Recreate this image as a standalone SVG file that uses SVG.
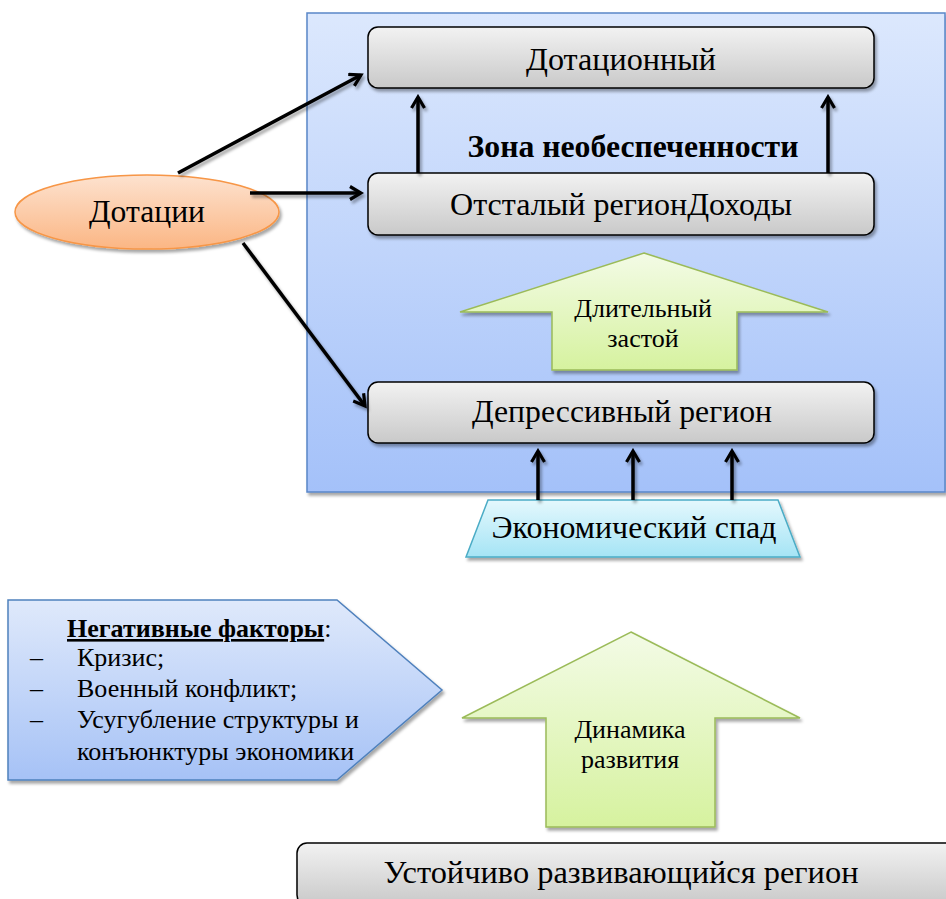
<svg xmlns="http://www.w3.org/2000/svg" width="946" height="899" viewBox="0 0 946 899">
<defs>
<linearGradient id="gBlue" x1="0" y1="0" x2="0" y2="1"><stop offset="0" stop-color="#dce8fd"/><stop offset="1" stop-color="#a4c1f9"/></linearGradient>
<linearGradient id="gBlue2" x1="0" y1="0" x2="0" y2="1"><stop offset="0" stop-color="#dfe9fb"/><stop offset="1" stop-color="#a6c2f6"/></linearGradient>
<linearGradient id="gGray" x1="0" y1="0" x2="0" y2="1"><stop offset="0" stop-color="#f2f2f2"/><stop offset="1" stop-color="#c9c9c9"/></linearGradient>
<linearGradient id="gOrange" x1="0" y1="0" x2="0" y2="1"><stop offset="0" stop-color="#fde2cf"/><stop offset="1" stop-color="#fbb684"/></linearGradient>
<linearGradient id="gGreen" x1="0" y1="0" x2="0" y2="1"><stop offset="0" stop-color="#f3fbe6"/><stop offset="1" stop-color="#d6f29f"/></linearGradient>
<linearGradient id="gCyan" x1="0" y1="0" x2="0" y2="1"><stop offset="0" stop-color="#e4f8fd"/><stop offset="1" stop-color="#a5e4f5"/></linearGradient>
<filter id="sh" x="-10%" y="-10%" width="130%" height="130%"><feDropShadow dx="2" dy="3" stdDeviation="1.5" flood-color="#000" flood-opacity="0.35"/></filter>
<filter id="shl" filterUnits="userSpaceOnUse" x="0" y="0" width="946" height="899"><feDropShadow dx="2" dy="3" stdDeviation="1.5" flood-color="#000" flood-opacity="0.35"/></filter>
<marker id="ah" viewBox="0 0 16 16" refX="13" refY="8" markerWidth="16" markerHeight="16" markerUnits="userSpaceOnUse" orient="auto"><path d="M2,1.5 L13,8 L2,14.5" fill="none" stroke="#000" stroke-width="3.2"/></marker>
</defs>
<style>
.t{font-family:'Liberation Serif','Times New Roman',serif;fill:#000;}
.L{font-size:32px;}
.m{font-size:26px;}
.box{fill:url(#gGray);stroke:#000;stroke-width:1.5;filter:url(#sh);}
.c{stroke:#000;stroke-width:3.5;fill:none;marker-end:url(#ah);}
</style>
<g id="zone">
<rect x="307" y="13" width="638" height="479" fill="url(#gBlue)" stroke="#5a86c8" stroke-width="1.5" filter="url(#sh)"/>
<text class="t L" x="633" y="157" font-weight="bold" text-anchor="middle" textLength="331" lengthAdjust="spacingAndGlyphs">Зона необеспеченности</text>
</g>
<g id="dotacionny">
<rect class="box" x="368" y="27" width="506" height="61" rx="10"/>
<text class="t L" x="621" y="70" text-anchor="middle" textLength="190" lengthAdjust="spacingAndGlyphs">Дотационный</text>
</g>
<g id="otstaly">
<rect class="box" x="368" y="173" width="506" height="62" rx="10"/>
<text class="t L" x="621" y="215" text-anchor="middle" textLength="342" lengthAdjust="spacingAndGlyphs">Отсталый регионДоходы</text>
</g>
<g id="zastoy">
<path d="M644,253 L828,312 L737,312 L737,370 L552,370 L552,312 L460,312 Z" fill="url(#gGreen)" stroke="#9bbb59" stroke-width="1.5" filter="url(#sh)"/>
<text class="t m" x="643" y="317" text-anchor="middle">Длительный</text>
<text class="t m" x="643" y="347" text-anchor="middle">застой</text>
</g>
<g id="depress">
<rect class="box" x="368" y="382" width="506" height="61" rx="10"/>
<text class="t L" x="622" y="422" text-anchor="middle" textLength="300" lengthAdjust="spacingAndGlyphs">Депрессивный регион</text>
</g>
<g id="spad">
<path d="M488,500 L778,500 L800,557 L466,557 Z" fill="url(#gCyan)" stroke="#4bacc6" stroke-width="1.5" filter="url(#sh)"/>
<text class="t L" x="634" y="538" text-anchor="middle" textLength="285" lengthAdjust="spacingAndGlyphs">Экономический спад</text>
</g>
<g id="dotacii">
<ellipse cx="147" cy="212" rx="132" ry="37" fill="url(#gOrange)" stroke="#f79646" stroke-width="1.5" filter="url(#sh)"/>
<text class="t L" x="147" y="222" text-anchor="middle" textLength="116" lengthAdjust="spacingAndGlyphs">Дотации</text>
</g>
<g id="negative">
<path d="M8,600 L337,600 L442,690 L337,780 L8,780 Z" fill="url(#gBlue2)" stroke="#4f81bd" stroke-width="1.5" filter="url(#sh)"/>
<text class="t" x="67" y="637" font-size="26"><tspan font-weight="bold" text-decoration="underline">Негативные факторы</tspan>:</text>
<text class="t" x="30" y="666" font-size="26">–</text>
<text class="t" x="77" y="666" font-size="26">Кризис;</text>
<text class="t" x="30" y="697" font-size="26">–</text>
<text class="t" x="77" y="697" font-size="26">Военный конфликт;</text>
<text class="t" x="30" y="728" font-size="26">–</text>
<text class="t" x="77" y="728" font-size="26">Усугубление структуры и</text>
<text class="t" x="77" y="760" font-size="26">конъюнктуры экономики</text>
</g>
<g id="dinamika">
<path d="M631,632 L800,718 L715,718 L715,827 L546,827 L546,718 L462,718 Z" fill="url(#gGreen)" stroke="#9bbb59" stroke-width="1.5" filter="url(#sh)"/>
<text class="t m" x="630" y="738" text-anchor="middle">Динамика</text>
<text class="t m" x="630" y="768" text-anchor="middle">развития</text>
</g>
<g id="ustoich">
<rect class="box" x="297" y="843" width="660" height="62" rx="10"/>
<text class="t L" x="621" y="883" text-anchor="middle" textLength="475" lengthAdjust="spacingAndGlyphs">Устойчиво развивающийся регион</text>
</g>
<g id="connectors" filter="url(#shl)">
<line class="c" x1="178" y1="173" x2="361" y2="75"/>
<line class="c" x1="250" y1="193" x2="361" y2="193"/>
<line class="c" x1="243" y1="243" x2="365" y2="406"/>
<line class="c" x1="418" y1="173" x2="418" y2="97"/>
<line class="c" x1="828" y1="173" x2="828" y2="97"/>
<line class="c" x1="538" y1="500" x2="538" y2="451"/>
<line class="c" x1="633" y1="500" x2="633" y2="451"/>
<line class="c" x1="732" y1="500" x2="732" y2="451"/>
</g>
</svg>
